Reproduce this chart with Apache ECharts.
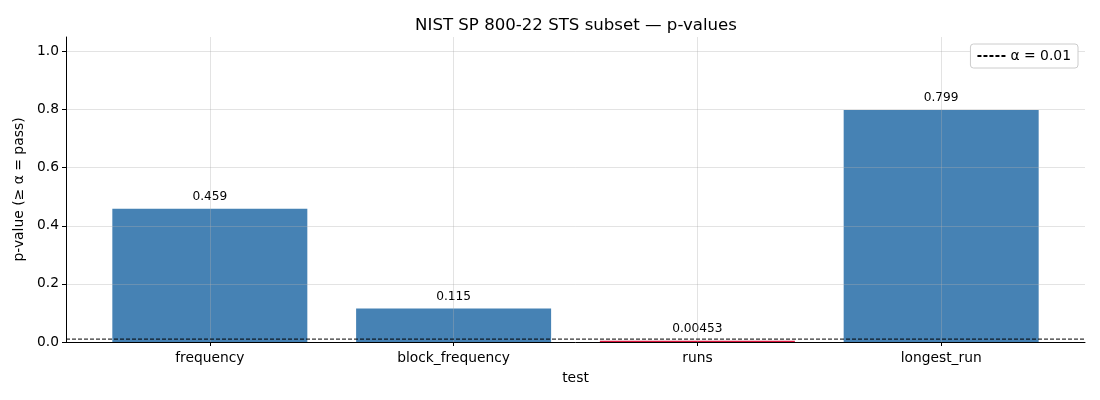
<!DOCTYPE html>
<html>
<head>
<meta charset="utf-8">
<script src="https://cdn.jsdelivr.net/npm/echarts@6/dist/echarts.min.js"></script>
<style>
  html, body { margin: 0; padding: 0; background: #fff; }
  #chart { width: 1100px; height: 400px; }
</style>
</head>
<body>
<div id="chart"></div>
<script>
// data
const tests = ['frequency', 'block_frequency', 'runs', 'longest_run']
const pValues = [0.459, 0.115, 0.00453, 0.799]
const pLabels = ['0.459', '0.115', '0.00453', '0.799']
const alpha = 0.01
const xTicks = [0, 1, 2, 3]
const yTicks = [0, 0.2, 0.4, 0.6, 0.8, 1.0]

const FONT = 'DejaVu Sans'
const GRID_COLOR = 'rgba(176,176,176,0.35)'

// bars below alpha are red
let barData = []
for (let i = 0; i < pValues.length; i++) {
    barData.push({
        value: [i, pValues[i]],
        itemStyle: { color: pValues[i] < alpha ? '#dc143c' : '#4682b4' },
        label: { formatter: pLabels[i] }
    })
}

let chart = echarts.init(document.getElementById('chart'), null, { renderer: 'canvas' })

let option = {
    animation: false,
    textStyle: { fontFamily: FONT },
    title: {
        text: 'NIST SP 800-22 STS subset — p-values',
        left: 571, top: 12, textAlign: 'center',
        textStyle: { fontFamily: FONT, fontSize: 16.6, fontWeight: 'normal', color: '#000' }
    },
    legend: {
        right: 22, top: 44,
        data: [{ name: 'α = ' + alpha }],
        backgroundColor: '#fff',
        borderColor: '#cccccc', borderWidth: 1, borderRadius: 3,
        padding: [5, 7, 5, 6],
        itemWidth: 28, itemHeight: 10,
        itemStyle: { opacity: 0 },
        textStyle: { fontFamily: FONT, fontSize: 13.9, color: '#000' }
    },
    grid: { left: 66, right: 15, top: 37, bottom: 58 },
    xAxis: {
        type: 'value', min: -0.59, max: 3.59, z: 3,
        name: 'test', nameLocation: 'middle', nameGap: 29,
        nameTextStyle: { fontFamily: FONT, fontSize: 13.9, color: '#000' },
        axisLine: { show: true, onZero: false, lineStyle: { color: '#000', width: 1 } },
        axisTick: { show: true, length: 4, customValues: xTicks, lineStyle: { color: '#000' } },
        axisLabel: {
            customValues: xTicks,
            fontFamily: FONT, fontSize: 13.8, color: '#000', margin: 9,
            formatter: v => tests[Math.round(v)] || ''
        },
        splitLine: { show: true, lineStyle: { color: GRID_COLOR, width: 1 } }
    },
    yAxis: {
        type: 'value', min: 0, max: 1.05, z: 3,
        name: 'p-value (≥ α = pass)', nameLocation: 'middle', nameGap: 39, nameRotate: 90,
        nameTextStyle: { fontFamily: FONT, fontSize: 13.9, color: '#000' },
        axisLine: { show: true, onZero: false, lineStyle: { color: '#000', width: 1 } },
        axisTick: { show: true, length: 4, customValues: yTicks, lineStyle: { color: '#000' } },
        axisLabel: {
            customValues: yTicks,
            fontFamily: FONT, fontSize: 13.8, color: '#000', margin: 7,
            formatter: v => v.toFixed(1)
        },
        splitLine: { show: true, lineStyle: { color: GRID_COLOR, width: 1 } }
    },
    series: [
        {
            type: 'bar',
            data: barData,
            barWidth: 195,
            z: 1,
            label: {
                show: true, position: 'top', distance: 6,
                fontFamily: FONT, fontSize: 12.2, color: '#000'
            }
        },
        {
            name: 'α = ' + alpha,
            type: 'line',
            data: [[-0.59, alpha], [3.59, alpha]],
            symbol: 'none',
            z: 4,
            lineStyle: { color: '#000', width: 1, type: [4, 2] },
            itemStyle: { color: '#000' }
        }
    ]
}

chart.setOption(option)
</script>
</body>
</html>
